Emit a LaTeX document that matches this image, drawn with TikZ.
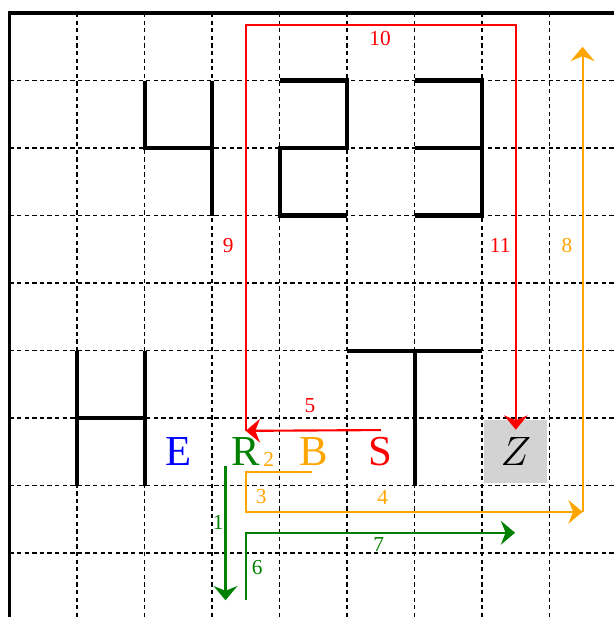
\documentclass[tikz,border=0pt]{standalone}
\usepackage{fontspec}
\setmainfont{Liberation Serif}
\usetikzlibrary{arrows.meta}
\definecolor{pathgreen}{RGB}{0,128,0}
\definecolor{pathorange}{RGB}{255,165,0}
\definecolor{boxgray}{RGB}{211,211,211}

\begin{document}
\begin{tikzpicture}[x=1cm,y=1cm,
  gridline/.style={line width=0.5pt,dash pattern=on 1.8pt off 1.4pt},
  glyph/.style={line width=1.7pt},
  letter/.style={font=\fontsize{18}{20}\selectfont,inner sep=0pt},
  num/.style={font=\fontsize{9}{10}\selectfont,inner sep=0pt},
  route/.style={line width=0.9pt,-{Stealth[length=6pt,width=10pt,inset=2pt]}}]
  \useasboundingbox (-0.141,0.193) rectangle (8.956,-8.948);
  % grid and border
  \foreach \i in {1,...,8} {
    \draw[gridline] (\i,0) -- (\i,-8.96);
    \draw[gridline] (0,-\i) -- (8.96,-\i);
  }
  \draw[line width=1.5pt] (0,-8.96) -- (0,0) -- (8.96,0);
  % walls
  \draw[glyph] (2,-1) -- (2,-2) -- (3,-2);
  \draw[glyph] (3,-1) -- (3,-3);
  \draw[glyph] (4,-1) -- (5,-1) -- (5,-2) -- (4,-2) -- (4,-3) -- (5,-3);
  \draw[glyph] (6,-1) -- (7,-1) -- (7,-3) -- (6,-3);
  \draw[glyph] (6,-2) -- (7,-2);
  \draw[glyph] (1,-5) -- (1,-7);
  \draw[glyph] (2,-5) -- (2,-7);
  \draw[glyph] (1,-6) -- (2,-6);
  \draw[glyph] (5,-5) -- (7,-5);
  \draw[glyph] (6,-5) -- (6,-7);
  % letters
  \node[letter,text=blue] (E) at (2.5,-6.5) {E};
  \node[letter,text=pathgreen] (R) at (3.5,-6.5) {R};
  \node[letter,text=pathorange] (B) at (4.5,-6.5) {B};
  \node[letter,text=red] (S) at (5.5,-6.5) {S};
  \node[letter,fill=boxgray,minimum size=0.93cm] (Z) at (7.5,-6.5) {$Z$};
  % turning points
  \coordinate (redturn) at (3.5,-6.19);
  \coordinate (greenstart) at (3.2,-6.71);
  \coordinate (greenend) at (3.2,-8.7);
  \coordinate (orangestart) at (4.48,-6.8);
  \coordinate (orangeturn) at (8.49,-7.39);
  % red route
  \draw[route,red] ([yshift=2.9pt]S.north) -- (redturn);
  \draw[route,red] (redturn) -- (3.5,-0.18) -- (7.5,-0.18) -- ([yshift=-4.1pt]Z.north);
  % green route
  \draw[route,pathgreen] (greenstart) -- (greenend);
  \draw[route,pathgreen] (3.5,-8.7) -- (3.5,-7.7) -- (7.49,-7.7);
  % orange route
  \draw[route,pathorange] (orangestart) -- (3.5,-6.8) -- (3.5,-7.39) -- (orangeturn);
  \draw[route,pathorange] (orangeturn) -- (8.49,-0.5);
  % step numbers
  \node[num,text=pathgreen] (n1) at (3.09,-7.54) {1};
  \node[num,text=pathorange] (n2) at (3.84,-6.62) {2};
  \node[num,text=pathorange] (n3) at (3.73,-7.17) {3};
  \node[num,text=pathorange] (n4) at (5.53,-7.17) {4};
  \node[num,text=red] (n5) at (4.45,-5.81) {5};
  \node[num,text=pathgreen] (n6) at (3.67,-8.22) {6};
  \node[num,text=pathgreen] (n7) at (5.47,-7.87) {7};
  \node[num,text=pathorange] (n8) at (8.26,-3.44) {8};
  \node[num,text=red] (n9) at (3.24,-3.45) {9};
  \node[num,text=red] (n10) at (5.49,-0.385) {10};
  \node[num,text=red] (n11) at (7.27,-3.45) {11};
\end{tikzpicture}
\end{document}
